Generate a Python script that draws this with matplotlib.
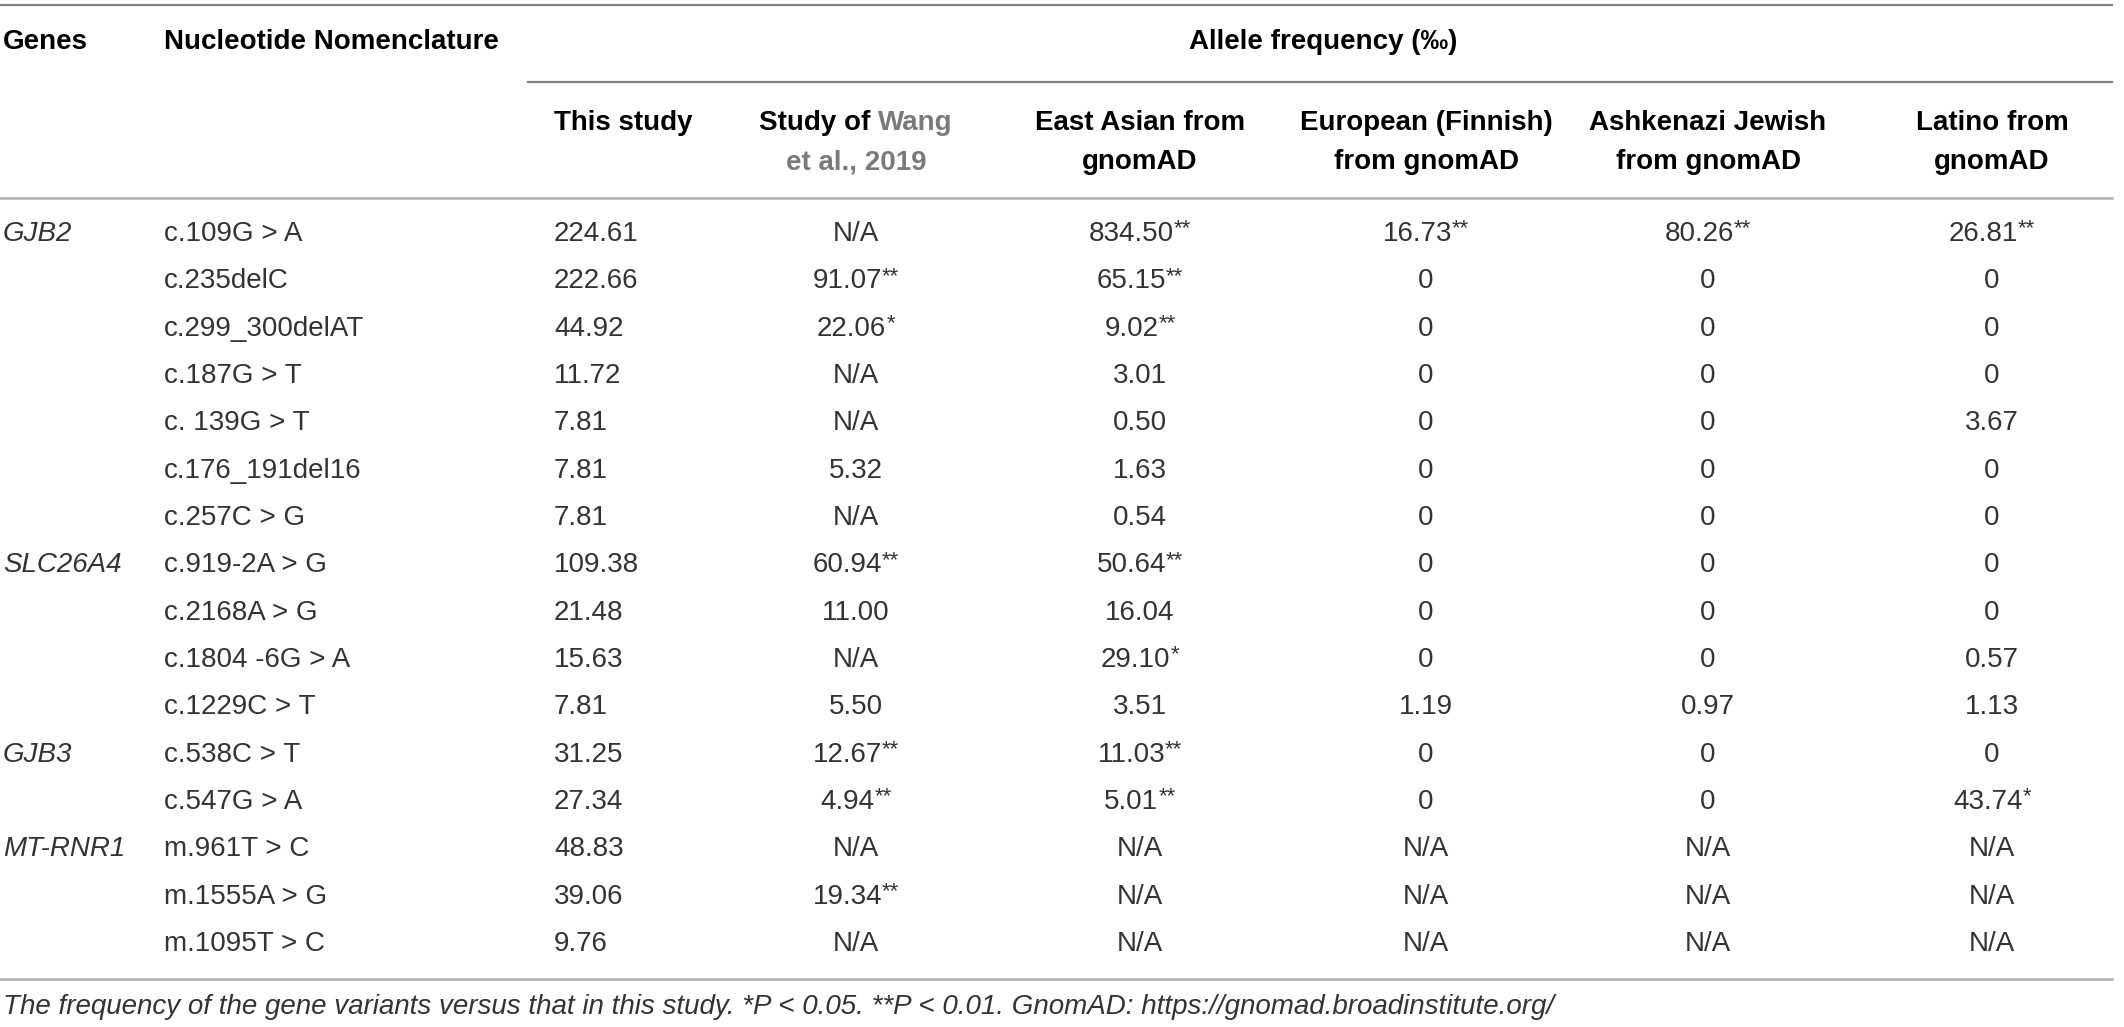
import matplotlib
matplotlib.use("Agg")
import matplotlib.pyplot as plt

plt.rcParams['font.family'] = ['Liberation Sans', 'DejaVu Sans']

W, H = 2124, 1027

genes = ["GJB2", "", "", "", "", "", "", "SLC26A4", "", "", "", "GJB3", "", "MT-RNR1", "", ""]
variants = ["c.109G > A", "c.235delC", "c.299_300delAT", "c.187G > T", "c. 139G > T",
            "c.176_191del16", "c.257C > G", "c.919-2A > G", "c.2168A > G", "c.1804 -6G > A",
            "c.1229C > T", "c.538C > T", "c.547G > A", "m.961T > C", "m.1555A > G", "m.1095T > C"]
this_study = ["224.61", "222.66", "44.92", "11.72", "7.81", "7.81", "7.81", "109.38", "21.48",
              "15.63", "7.81", "31.25", "27.34", "48.83", "39.06", "9.76"]
wang_2019 = ["N/A", "91.07**", "22.06*", "N/A", "N/A", "5.32", "N/A", "60.94**", "11.00",
             "N/A", "5.50", "12.67**", "4.94**", "N/A", "19.34**", "N/A"]
east_asian = ["834.50**", "65.15**", "9.02**", "3.01", "0.50", "1.63", "0.54", "50.64**", "16.04",
              "29.10*", "3.51", "11.03**", "5.01**", "N/A", "N/A", "N/A"]
european = ["16.73**", "0", "0", "0", "0", "0", "0", "0", "0", "0", "1.19", "0", "0", "N/A", "N/A", "N/A"]
ashkenazi = ["80.26**", "0", "0", "0", "0", "0", "0", "0", "0", "0", "0.97", "0", "0", "N/A", "N/A", "N/A"]
latino = ["26.81**", "0", "0", "0", "3.67", "0", "0", "0", "0", "0.57", "1.13", "0", "43.74*",
          "N/A", "N/A", "N/A"]

pop_headers = [("East Asian from", "gnomAD"), ("European (Finnish)", "from gnomAD"),
               ("Ashkenazi Jewish", "from gnomAD"), ("Latino from", "gnomAD")]
footnote = ("The frequency of the gene variants versus that in this study. *P < 0.05. "
            "**P < 0.01. GnomAD: https://gnomad.broadinstitute.org/")

FS = 20
TXT = "#333333"
GRAY = "#7a7a7a"
row0, row_step = 234, 47.33
x_gene, x_var, x_this = 3, 164, 554
centers = [856, 1140, 1426, 1708, 1992]

fig = plt.figure(figsize=(W / 100, H / 100), dpi=100)
ax = fig.add_axes([0, 0, 1, 1])
ax.set_xlim(0, W)
ax.set_ylim(H, 0)
ax.axis("off")
fig.canvas.draw()
renderer = fig.canvas.get_renderer()


def width_px(t):
    bb = t.get_window_extent(renderer=renderer)
    return bb.width


def starred(xc, y, s):
    # number centred with superscript stars, as in the journal table
    base = s.rstrip("*")
    stars = s[len(base):]
    t1 = ax.text(0, y, base, fontsize=FS, color=TXT, va="center", ha="left")
    w1 = width_px(t1)
    w2 = 0
    if stars:
        t2 = ax.text(0, y - 5, stars, fontsize=16, color=TXT, va="center", ha="left")
        w2 = width_px(t2)
    x0 = xc - (w1 + w2) / 2
    t1.set_x(x0)
    if stars:
        t2.set_x(x0 + w1)


# rules
ax.plot([0, 2112], [5, 5], color="#808080", lw=1.6)
ax.plot([528, 2112], [82, 82], color="#808080", lw=1.6)
ax.plot([0, 2112], [198, 198], color="#b0b0b0", lw=1.8)
ax.plot([0, 2112], [979, 979], color="#b0b0b0", lw=1.8)

# header
ax.text(x_gene, 42, "Genes", fontsize=FS, fontweight="bold", va="center")
ax.text(x_var, 42, "Nucleotide Nomenclature", fontsize=FS, fontweight="bold", va="center")
ax.text(1323, 42, "Allele frequency (‰)", fontsize=FS, fontweight="bold", va="center", ha="center")
ax.text(x_this, 123, "This study", fontsize=FS, fontweight="bold", va="center")

ta = ax.text(0, 123, "Study of ", fontsize=FS, fontweight="bold", va="center")
tb = ax.text(0, 123, "Wang", fontsize=FS, fontweight="bold", va="center", color=GRAY)
wa, wb = width_px(ta), width_px(tb)
ta.set_x(centers[0] - (wa + wb) / 2)
tb.set_x(centers[0] - (wa + wb) / 2 + wa)
ax.text(centers[0], 162, "et al., 2019", fontsize=FS, fontweight="bold", va="center",
        ha="center", color=GRAY)
for xc, (l1, l2) in zip(centers[1:], pop_headers):
    ax.text(xc, 123, l1, fontsize=FS, fontweight="bold", va="center", ha="center")
    ax.text(xc, 162, l2, fontsize=FS, fontweight="bold", va="center", ha="center")

# body
cols = [wang_2019, east_asian, european, ashkenazi, latino]
for i in range(len(variants)):
    y = row0 + i * row_step
    if genes[i]:
        ax.text(x_gene, y, genes[i], fontsize=FS, style="italic", color=TXT, va="center")
    ax.text(x_var, y, variants[i], fontsize=FS, color=TXT, va="center")
    ax.text(x_this, y, this_study[i], fontsize=FS, color=TXT, va="center")
    for xc, col in zip(centers, cols):
        starred(xc, y, col[i])

ax.text(x_gene, 1007, footnote, fontsize=FS, style="italic", color=TXT, va="center")

fig.savefig("out.png", dpi=100)
